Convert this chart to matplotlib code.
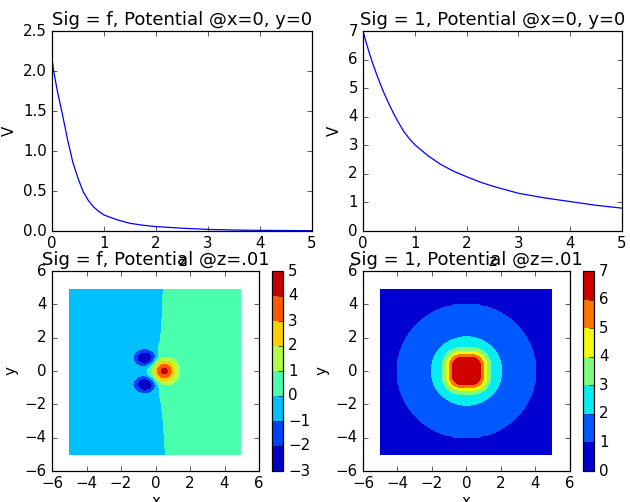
import numpy as np
import matplotlib
matplotlib.use('Agg')
import matplotlib.pyplot as plt

plt.style.use('classic')
plt.rcParams['figure.facecolor'] = 'white'
plt.rcParams['savefig.facecolor'] = 'white'

# potential along z at x=0, y=0
z_f = [0, 0.03, 0.06, 0.1, 0.15, 0.2, 0.25, 0.3, 0.35, 0.4, 0.45, 0.5, 0.6, 0.7, 0.8, 0.9, 1.0,
       1.25, 1.5, 1.75, 2.0, 2.5, 3.0, 3.5, 4.0, 5.0]
v_f = [2.16, 2.01, 1.9, 1.76, 1.61, 1.46, 1.3, 1.14, 1.0, 0.86, 0.76, 0.66, 0.49, 0.38, 0.30, 0.245, 0.20,
       0.14, 0.096, 0.072, 0.055, 0.035, 0.02, 0.012, 0.008, 0.004]
z_1 = [0, 0.05, 0.1, 0.15, 0.2, 0.3, 0.4, 0.5, 0.6, 0.7, 0.8, 0.9, 1.0, 1.25, 1.5, 1.75, 2.0, 2.25, 2.5,
       3.0, 3.5, 4.0, 4.5, 5.0]
v_1 = [7.0, 6.67, 6.36, 6.07, 5.8, 5.3, 4.85, 4.45, 4.08, 3.75, 3.45, 3.22, 3.02, 2.64, 2.33, 2.09, 1.9,
       1.72, 1.57, 1.32, 1.16, 1.03, 0.9, 0.8]

# contour levels (also the colorbar ticks)
levels_f = [-3, -2, -1, 0, 1, 2, 3, 4, 5]
levels_1 = [0, 1, 2, 3, 4, 5, 6, 7]

# sig = f plane at z=.01: where the field crosses zero, x as a function of y
edge_y = [-5, -4, -3, -2, -1.5, -1, 0, 1, 1.5, 2, 3, 4, 5]
edge_x = [0.57, 0.51, 0.44, 0.34, 0.25, 0.12, 0.0, 0.1, 0.2, 0.3, 0.37, 0.41, 0.45]
# peak and the two wells
peak_xy = (0.47, 0.0)
peak_v = 4.0
well_x = [-0.55, -0.55]
well_y = [0.78, -0.80]
well_v = [-2.5, -2.5]

# sig = 1 plane at z=.01: value against distance from the centre
prof_r = [0, 0.85, 1.0, 1.17, 1.4, 2.03, 4.0, 7.1]
prof_v = [6.99, 6.0, 5.0, 4.0, 3.0, 2.0, 1.0, 0.6]

grid = np.arange(-5, 5, 0.1)
X, Y = np.meshgrid(grid, grid)

base = 0.6 * np.tanh((X - np.interp(Y, edge_y, edge_x)) / 0.8)
V_f = base + peak_v * np.exp(-((X - peak_xy[0])**2 + (Y - peak_xy[1])**2) / 0.4)
for wx, wy, wv in zip(well_x, well_y, well_v):
    rho = np.sqrt(((X - wx) / 0.62)**2 + ((Y - wy) / 0.48)**2)
    V_f = V_f + wv * np.exp(-rho**2.8)

r2 = np.hypot(X, Y)
r4 = (np.abs(X)**3 + np.abs(Y)**3)**(1 / 3)
w = np.clip((2.0 - r2) / 0.6, 0, 1)
V_1 = np.interp(w * r4 + (1 - w) * r2, prof_r, prof_v)

fig = plt.figure(figsize=(630 / 90, 502 / 90), dpi=90)

ax1 = fig.add_axes([52 / 630, 1 - 231 / 502, 260 / 630, 200 / 502])
ax1.plot(z_f, v_f, color='b')
ax1.set_xlim(0, 5)
ax1.set_ylim(0, 2.5)
ax1.set_title('Sig = f, Potential @x=0, y=0')
ax1.set_xlabel('z', labelpad=2)
ax1.set_ylabel('V')

ax2 = fig.add_axes([363 / 630, 1 - 231 / 502, 259 / 630, 200 / 502])
ax2.plot(z_1, v_1, color='b')
ax2.set_xlim(0, 5)
ax2.set_ylim(0, 7)
ax2.set_title('Sig = 1, Potential @x=0, y=0')
ax2.set_xlabel('z', labelpad=2)
ax2.set_ylabel('V')

ax3 = fig.add_axes([52 / 630, 1 - 471 / 502, 207 / 630, 200 / 502])
cs3 = ax3.contourf(X, Y, V_f, levels=levels_f, cmap='jet')
ax3.set_xlim(-6, 6)
ax3.set_ylim(-6, 6)
ax3.set_title('Sig = f, Potential @z=.01')
ax3.set_xlabel('x', labelpad=2)
ax3.set_ylabel('y')
cax3 = fig.add_axes([272 / 630, 1 - 471 / 502, 11 / 630, 200 / 502])
fig.colorbar(cs3, cax=cax3, ticks=levels_f)

ax4 = fig.add_axes([363 / 630, 1 - 471 / 502, 207 / 630, 200 / 502])
cs4 = ax4.contourf(X, Y, V_1, levels=levels_1, cmap='jet')
ax4.set_xlim(-6, 6)
ax4.set_ylim(-6, 6)
ax4.set_title('Sig = 1, Potential @z=.01')
ax4.set_xlabel('x', labelpad=2)
ax4.set_ylabel('y')
cax4 = fig.add_axes([583 / 630, 1 - 471 / 502, 11 / 630, 200 / 502])
fig.colorbar(cs4, cax=cax4, ticks=levels_1)

fig.savefig('out.png', dpi=90)
